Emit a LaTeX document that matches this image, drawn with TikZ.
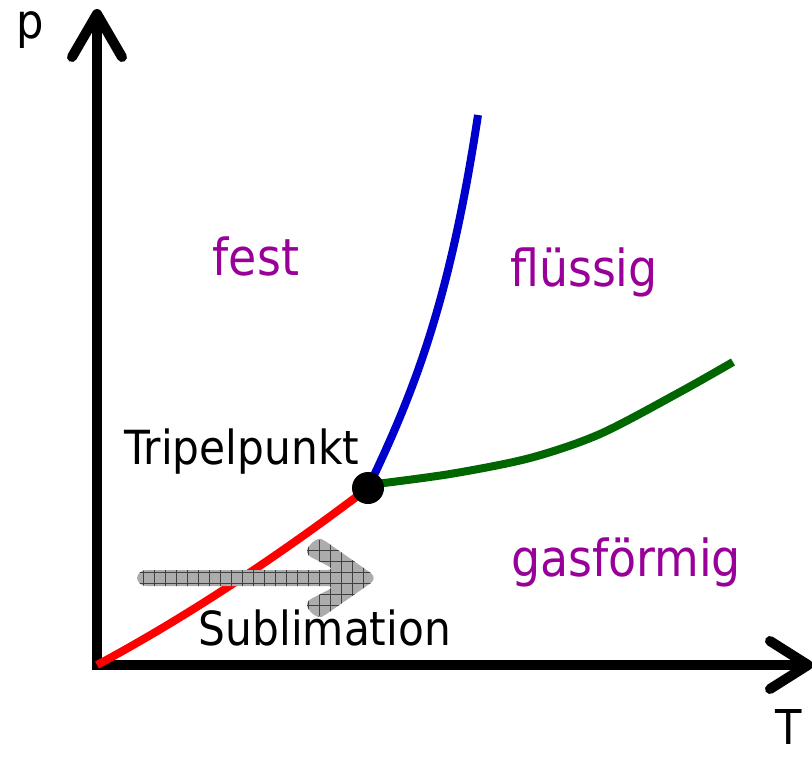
\documentclass[tikz,border=0pt]{standalone}
\usepackage{fontspec}
\setmainfont{DejaVu Sans Condensed}
\definecolor{phasepurple}{HTML}{990099}
\definecolor{curvered}{HTML}{FF0000}
\definecolor{curveblue}{HTML}{0000CC}
\definecolor{curvegreen}{HTML}{006600}
\tikzset{
  axisline/.style={line width=10pt, black},
  axishead/.style={line width=10pt, black, line cap=round, line join=round},
  curveline/.style={line width=8pt},
  phaselabel/.style={text=phasepurple, font=\fontsize{51}{60}\selectfont, inner sep=0pt},
  blacklabel/.style={text=black, font=\fontsize{47}{55}\selectfont, inner sep=0pt}
}
\begin{document}
\begin{tikzpicture}[x=1pt,y=-1pt]
\useasboundingbox (0,0) rectangle (812,756);
% axes
\coordinate (O) at (97,665);
\coordinate (ptop) at (97,14);
\coordinate (tright) at (808,665);
\draw[axisline, line join=miter] (97,16) -- (O) -- (806,665);
\draw[axishead] (72,57) -- (ptop) -- (122,57);
\draw[axishead] (770,641) -- (tright) -- (770,689);
\node[blacklabel, font=\fontsize{48}{55}\selectfont] (plab) at (30,30) {p};
\node[blacklabel, font=\fontsize{48}{55}\selectfont] (tlab) at (789,727) {T};
% curves
\draw[curveline, curvered] (O) .. controls (200,610) and (300,540) .. (368,488);
\draw[curveline, curveblue] (368,488) .. controls (415,390) and (450,300) .. (478,115);
\draw[curveline, curvegreen] plot[smooth] coordinates {(368,485) (450,474) (530,458) (600,434) (680,392) (733,362)};
% triple point
\node[circle, fill=black, minimum size=32pt, inner sep=0pt] (tp) at (368,488) {};
% sublimation arrow
\def\sublpath{(137,570) -- (336,570) -- (303,553) -- (318,536) -- (378,578) -- (318,620) -- (303,603) -- (336,586) -- (137,586) -- cycle}
\path[fill=gray!65, rounded corners=9pt] \sublpath;
\begin{scope}
\clip[rounded corners=9pt] \sublpath;
\draw[black!75, line width=0.8pt, step=11pt] (130,530) grid (390,630);
\end{scope}
% labels
\node[phaselabel] (fest) at (256,256) {fest};
\node[phaselabel] (fl) at (584,272) {flüssig};
\node[phaselabel] (gas) at (626,562) {gasförmig};
\node[blacklabel] (tpl) at (242,452) {Tripelpunkt};
\node[blacklabel] (sub) at (325,628) {Sublimation};
\end{tikzpicture}
\end{document}
